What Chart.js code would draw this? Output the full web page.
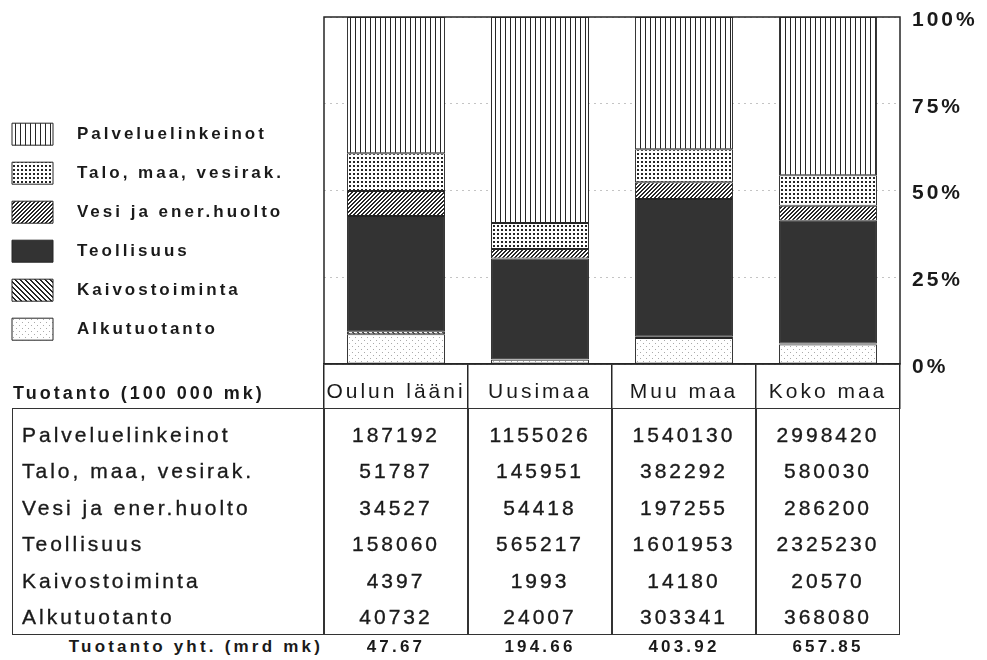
<!DOCTYPE html>
<html>
<head>
<meta charset="utf-8">
<script src="https://cdn.jsdelivr.net/npm/chart.js@4.4.0/dist/chart.umd.min.js"></script>
<style>
body{margin:0;background:#fff;width:987px;height:660px;position:relative;overflow:hidden;font-family:"Liberation Sans",Arial,sans-serif;color:#1a1a1a}
#c{position:absolute;left:0;top:0}
.t{position:absolute;white-space:nowrap;line-height:24px;height:24px}
.row{font-size:21px;letter-spacing:3px;-webkit-text-stroke:0.35px #1a1a1a}
.num{font-size:21px;letter-spacing:3px;text-align:center;-webkit-text-stroke:0.35px #1a1a1a}
.foot{font-size:17px;font-weight:bold;letter-spacing:3.2px}
.head{font-size:18px;font-weight:bold;letter-spacing:3px}
.line{position:absolute;background:#333}
</style>
</head>
<body>
<canvas id="c" width="987" height="420"></canvas>
<div id="tbl"></div>
<script>
// columns / regions
const categories = ['Oulun lääni', 'Uusimaa', 'Muu maa', 'Koko maa'];

// production, 100 000 mk
const seriesNames = ['Palveluelinkeinot', 'Talo, maa, vesirak.', 'Vesi ja ener.huolto', 'Teollisuus', 'Kaivostoiminta', 'Alkutuotanto'];
const palvelu = [187192, 1155026, 1540130, 2998420];
const talo = [51787, 145951, 382292, 580030];
const vesi = [34527, 54418, 197255, 286200];
const teollisuus = [158060, 565217, 1601953, 2325230];
const kaivos = [4397, 1993, 14180, 20570];
const alku = [40732, 24007, 303341, 368080];

// totals, mrd mk
const totals = ['47.67', '194.66', '403.92', '657.85'];

const yTicks = [0, 25, 50, 75, 100];

const tableRows = [palvelu, talo, vesi, teollisuus, kaivos, alku];
const sums = categories.map((_, i) => tableRows.reduce((a, s) => a + s[i], 0));
const pct = s => s.map((v, i) => v / sums[i] * 100);

const ink = '#262626';
const font = '"Liberation Sans", Arial, sans-serif';
Chart.defaults.font.family = font;
Chart.defaults.color = '#1a1a1a';

function pattern(w, h, draw) {
  const c = document.createElement('canvas');
  c.width = w; c.height = h;
  const g = c.getContext('2d');
  g.fillStyle = '#fff';
  g.fillRect(0, 0, w, h);
  g.fillStyle = ink;
  draw(g);
  return g.createPattern(c, 'repeat');
}

const pVertical = pattern(5, 5, g => g.fillRect(0, 0, 1, 5));
const pDots = pattern(4, 4, g => g.fillRect(1, 1, 2, 2));
const pSlash = pattern(4, 4, g => { for (let i = 0; i < 4; i++) { g.fillRect(i, 3 - i, 1, 1); g.fillRect((i + 1) % 4, 3 - i, 1, 1); } });
const pBack = pattern(5, 5, g => { for (let i = 0; i < 5; i++) { g.fillRect(i, i, 1, 1); g.fillRect((i + 1) % 5, i, 1, 1); } });
const pLight = pattern(6, 6, g => { g.fillStyle = '#aaa'; g.fillRect(1, 1, 1, 1); g.fillRect(4, 4, 1, 1); });

function ds(label, values, fill) {
  return {
    label: label,
    data: pct(values),
    backgroundColor: fill,
    borderColor: ink,
    borderWidth: 1,
    borderSkipped: false,
    barPercentage: 0.68,
    categoryPercentage: 1
  };
}

const spacing = {
  id: 'spacing',
  beforeUpdate(chart) { chart.ctx.letterSpacing = '3px'; },
  beforeLayout(chart) { chart.ctx.letterSpacing = '3px'; },
  beforeDraw(chart) { chart.ctx.letterSpacing = '3px'; }
};

const frame = {
  id: 'frame',
  afterDatasetsDraw(chart) {
    const a = chart.chartArea, ctx = chart.ctx;
    ctx.save();
    ctx.strokeStyle = ink;
    ctx.lineWidth = 1.5;
    ctx.strokeRect(a.left, a.top, a.right - a.left, a.bottom - a.top);
    ctx.restore();
  }
};

const chart = new Chart(document.getElementById('c').getContext('2d'), {
  type: 'bar',
  data: {
    labels: categories,
    datasets: [
      ds(seriesNames[5], alku, pLight),
      ds(seriesNames[4], kaivos, pBack),
      ds(seriesNames[3], teollisuus, '#333'),
      ds(seriesNames[2], vesi, pSlash),
      ds(seriesNames[1], talo, pDots),
      ds(seriesNames[0], palvelu, pVertical)
    ]
  },
  options: {
    responsive: false,
    animation: false,
    layout: { padding: { left: -5, top: 17, right: 0, bottom: 11 } },
    plugins: {
      tooltip: { enabled: false },
      legend: {
        position: 'left',
        align: 'start',
        reverse: true,
        maxWidth: 320,
        title: { display: true, text: '', font: { size: 1 }, padding: { top: 88, bottom: 0 } },
        labels: {
          boxWidth: 41,
          boxHeight: 22,
          padding: 17,
          color: '#1a1a1a',
          font: { size: 17, weight: 'bold' },
          generateLabels(ch) {
            const items = Chart.defaults.plugins.legend.labels.generateLabels(ch);
            items.forEach(it => { it.text = '  ' + it.text; });
            return items;
          }
        }
      }
    },
    scales: {
      x: {
        stacked: true,
        offset: true,
        grid: { offset: true, drawOnChartArea: false, drawTicks: true, tickLength: 45, color: ink, lineWidth: 1.5 },
        border: { display: true, color: ink, width: 1.5 },
        ticks: { padding: -29, autoSkip: false, maxRotation: 0, minRotation: 0, font: { size: 21 } },
        afterFit(s) { s.height = 45; }
      },
      y: {
        position: 'right',
        stacked: true,
        min: 0,
        max: 100,
        grid: { color: '#c4c4c4', lineWidth: 1, drawTicks: true, tickLength: 12, tickColor: 'rgba(0,0,0,0)' },
        border: { display: false, dash: [2, 4] },
        // empty first line nudges the label a little below its tick, as in the print
        ticks: { padding: 0, font: { size: 21, weight: 'bold', lineHeight: 0.3 }, callback: v => ['', v + '%'] },
        afterBuildTicks(s) { s.ticks = yTicks.map(v => ({ value: v })); },
        afterFit(s) { s.width = 87; s.paddingTop = 0; }
      },
      y2: {
        position: 'left',
        grid: { display: false },
        ticks: { display: false },
        border: { display: false },
        afterFit(s) { s.width = Math.max(0, 329 - s.chart.legend.width); }
      }
    }
  },
  plugins: [spacing, frame]
});

// table under the chart, columns follow the x scale
const xs = chart.scales.x;
const colW = (xs.right - xs.left) / categories.length;
const boxLeft = 12, boxTop = 408, boxBottom = 635;
const rowTop = 435, rowStep = 36.4;
let html = '';
html += '<div class="t head" style="left:13px;top:' + (393 - 12) + 'px">Tuotanto (100 000 mk)</div>';
html += '<div style="position:absolute;left:' + boxLeft + 'px;top:' + boxTop + 'px;width:' + (xs.right - boxLeft) + 'px;height:' + (boxBottom - boxTop) + 'px;border:1.5px solid #333;box-sizing:border-box"></div>';
for (let i = 0; i < categories.length; i++) {
  const x = xs.left + i * colW;
  html += '<div class="line" style="left:' + (x - 0.75) + 'px;top:' + boxTop + 'px;width:1.5px;height:' + (boxBottom - boxTop) + 'px"></div>';
}
tableRows.forEach((vals, r) => {
  const y = rowTop + r * rowStep - 12;
  html += '<div class="t row" style="left:22px;top:' + y + 'px">' + seriesNames[r] + '</div>';
  vals.forEach((v, i) => {
    const x = xs.left + i * colW;
    html += '<div class="t num" style="left:' + x + 'px;width:' + colW + 'px;top:' + y + 'px">' + v + '</div>';
  });
});
html += '<div class="t foot" style="left:0;width:323px;text-align:right;top:' + (647 - 12) + 'px">Tuotanto yht. (mrd mk)</div>';
totals.forEach((v, i) => {
  const x = xs.left + i * colW;
  html += '<div class="t foot" style="left:' + x + 'px;width:' + colW + 'px;text-align:center;top:' + (647 - 12) + 'px">' + v + '</div>';
});
document.getElementById('tbl').innerHTML = html;
</script>
</body>
</html>
